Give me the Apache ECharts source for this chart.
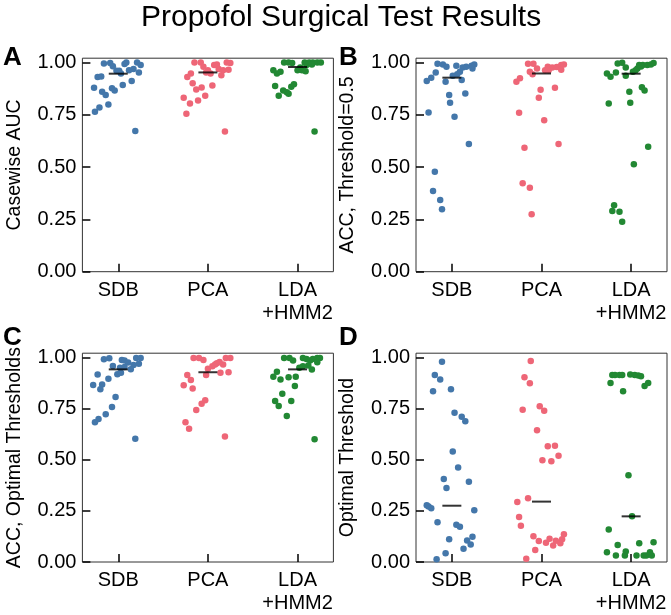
<!DOCTYPE html>
<html>
<head>
<meta charset="utf-8">
<script src="https://cdn.jsdelivr.net/npm/echarts@6.0.0/dist/echarts.min.js"></script>
<style>
    *{margin:0;padding:0;}
    body{background:#fff;overflow:hidden;}
    #chart{width:671px;height:615px;}
</style>
</head>
<body>
<div id="chart"></div>
<script>
// x axis categories and y ticks
let methods = ['SDB', 'PCA', 'LDA\n+HMM2'];
let yTicks = [0, 0.25, 0.5, 0.75, 1];
let panelNames = ['Casewise AUC', 'ACC, Threshold=0.5', 'ACC, Optimal Thresholds', 'Optimal Threshold'];
let panelLetters = ['A', 'B', 'C', 'D'];

// A: casewise AUC (values, and strip jitter)
let aucSdb = [0.995,0.997,0.981,0.992,1.0,0.960,0.960,0.947,0.963,0.968,1.0,0.987,0.952,0.930,0.932,0.879,0.860,0.844,0.876,0.866,0.892,0.911,0.799,0.785,0.764,0.672];
let aucSdbJit = [-0.16,-0.09,-0.06,0.07,0.09,-0.02,0.01,0.03,0.12,0.17,0.21,0.25,0.23,-0.23,-0.19,-0.27,-0.18,-0.14,-0.07,-0.04,0.05,0.15,-0.11,-0.21,-0.26,0.19];
let aucPca = [1.0,1.0,0.979,0.963,0.952,0.987,0.990,1.0,0.997,0.968,0.963,0.965,0.947,0.947,0.930,0.939,0.900,0.880,0.871,0.889,0.841,0.831,0.818,0.803,0.755,0.670];
let aucPcaJit = [-0.15,-0.08,-0.05,0.0,-0.02,0.07,0.10,0.21,0.25,0.12,0.17,0.23,0.03,-0.19,-0.23,0.15,-0.17,-0.07,-0.13,0.05,-0.03,-0.27,-0.11,-0.20,-0.24,0.19];
let aucLda = [1.0,1.0,0.997,0.975,0.963,1.0,1.0,1.0,1.0,1.0,0.987,0.990,0.963,0.958,0.962,0.947,0.955,0.887,0.866,0.857,0.850,0.841,0.884,0.895,0.670];
let aucLdaJit = [-0.15,-0.10,-0.06,0.03,0.05,0.08,0.13,0.17,0.22,0.26,0.10,0.16,0.0,0.09,-0.27,-0.23,-0.19,-0.25,-0.16,-0.12,-0.10,-0.21,-0.07,-0.04,0.19];

// B: accuracy at threshold 0.5
let accSdb = [0.994,0.990,0.979,0.984,0.976,0.979,0.984,0.990,0.971,0.955,0.943,0.936,0.952,0.927,0.911,0.908,0.916,0.844,0.851,0.807,0.761,0.740,0.610,0.478,0.385,0.342,0.298];
let accSdbJit = [-0.16,-0.10,-0.06,0.05,0.12,0.16,0.22,0.25,0.23,0.09,0.06,0.01,-0.18,-0.23,-0.28,-0.07,0.11,-0.03,0.15,-0.02,-0.26,0.03,0.19,-0.19,-0.21,-0.13,-0.11];
let accPca = [0.994,0.994,0.971,0.979,0.975,0.978,0.987,0.990,0.965,0.963,0.963,0.955,0.943,0.924,0.908,0.869,0.831,0.879,0.759,0.723,0.610,0.592,0.422,0.401,0.275];
let accPcaJit = [-0.15,-0.09,-0.05,0.07,0.12,0.17,0.22,0.25,0.22,0.04,0.08,-0.13,-0.10,-0.24,-0.28,-0.01,-0.03,0.15,-0.25,0.03,0.19,-0.19,-0.21,-0.13,-0.11];
let accLda = [0.995,0.998,0.975,0.952,0.947,0.931,0.936,0.955,0.963,0.971,0.987,0.987,0.987,0.990,0.997,0.980,0.860,0.881,0.866,0.803,0.807,0.597,0.513,0.318,0.290,0.287,0.239];
let accLdaJit = [-0.15,-0.10,-0.06,-0.17,-0.27,-0.23,-0.06,0.02,0.05,0.07,0.09,0.13,0.18,0.22,0.25,0.11,-0.02,0.12,0.15,-0.25,-0.01,0.19,0.03,-0.19,-0.21,-0.13,-0.10];

// C: accuracy at optimal thresholds
let optSdb = [0.990,0.995,0.987,0.984,0.975,0.997,0.997,0.957,0.949,0.952,0.962,0.968,0.917,0.924,0.941,0.916,0.895,0.865,0.867,0.844,0.806,0.757,0.722,0.698,0.683,0.602];
let optSdbJit = [-0.16,-0.10,0.04,0.07,0.11,0.20,0.25,-0.06,0.02,0.07,0.17,0.23,-0.01,0.03,0.14,-0.23,-0.11,-0.28,-0.18,-0.20,-0.03,-0.07,-0.14,-0.22,-0.26,0.19];
let optPca = [0.997,0.997,0.987,0.997,0.997,0.944,0.956,0.965,0.971,0.965,0.977,0.913,0.924,0.927,0.913,0.889,0.863,0.848,0.773,0.790,0.743,0.683,0.651,0.613];
let optPcaJit = [-0.16,-0.10,-0.05,0.20,0.25,0.0,0.05,0.08,0.10,0.17,0.13,-0.02,0.14,0.23,-0.23,-0.19,-0.27,-0.17,-0.07,-0.03,-0.13,-0.25,-0.21,0.19];
let optLda = [0.997,0.997,0.984,0.997,0.992,0.984,0.992,0.997,0.997,0.949,0.956,0.960,0.940,0.976,0.929,0.905,0.892,0.902,0.905,0.860,0.822,0.786,0.762,0.786,0.713,0.600];
let optLdaJit = [-0.15,-0.09,-0.05,0.06,0.10,0.14,0.17,0.22,0.25,0.02,0.06,0.12,0.16,0.22,-0.23,-0.27,-0.19,-0.10,-0.02,-0.03,-0.17,-0.25,-0.21,-0.07,-0.12,0.19];

// D: optimal threshold
let thrSdb = [0.978,0.914,0.892,0.834,0.844,0.729,0.710,0.688,0.540,0.462,0.406,0.392,0.361,0.277,0.271,0.263,0.253,0.194,0.182,0.172,0.111,0.105,0.123,0.086,0.065,0.043,0.013];
let thrSdbJit = [-0.11,-0.19,-0.13,-0.21,-0.01,0.03,0.11,0.15,0.01,0.07,-0.09,0.19,-0.06,-0.28,-0.26,-0.23,0.25,-0.16,0.05,0.09,-0.03,0.17,0.23,0.21,0.13,-0.07,-0.17];
let thrPca = [0.982,0.903,0.873,0.744,0.761,0.739,0.643,0.565,0.568,0.519,0.497,0.492,0.293,0.311,0.220,0.177,0.126,0.102,0.094,0.113,0.080,0.104,0.091,0.111,0.135,0.059,0.016];
let thrPcaJit = [-0.12,-0.19,-0.13,-0.21,-0.02,0.03,-0.05,0.07,0.15,0.19,0.01,0.11,-0.27,-0.15,-0.25,-0.23,-0.09,-0.03,0.05,0.09,0.13,0.16,0.21,0.23,0.25,-0.07,-0.17];
let thrLda = [0.914,0.914,0.914,0.914,0.916,0.914,0.911,0.908,0.874,0.834,0.860,0.874,0.424,0.223,0.159,0.048,0.083,0.032,0.051,0.032,0.092,0.032,0.032,0.032,0.048,0.032,0.097];
let thrLdaJit = [-0.21,-0.18,-0.13,-0.10,-0.01,0.04,0.08,0.11,-0.23,-0.09,0.15,0.19,-0.03,0.01,-0.25,-0.27,-0.15,-0.17,-0.06,-0.07,0.09,0.06,0.14,0.17,0.21,0.23,0.25];

// medians (black bars)
let medAuc = [0.946, 0.952, 0.978];
let medAcc = [0.927, 0.947, 0.946];
let medOpt = [0.941, 0.927, 0.941];
let medThr = [0.275, 0.295, 0.223];

let panels = [
    {vals: [aucSdb, aucPca, aucLda], jit: [aucSdbJit, aucPcaJit, aucLdaJit], med: medAuc},
    {vals: [accSdb, accPca, accLda], jit: [accSdbJit, accPcaJit, accLdaJit], med: medAcc},
    {vals: [optSdb, optPca, optLda], jit: [optSdbJit, optPcaJit, optLdaJit], med: medOpt},
    {vals: [thrSdb, thrPca, thrLda], jit: [thrSdbJit, thrPcaJit, thrLdaJit], med: medThr}
];

let colors = ['#4477AA', '#EE6677', '#228833'];
let font = 'Liberation Sans, Arial, sans-serif';
let gridPos = [
    {left: 82.4, top: 58.2, lx: 3, ly: 45},
    {left: 416, top: 58.2, lx: 339, ly: 45},
    {left: 82.4, top: 353.2, lx: 3, ly: 325},
    {left: 416, top: 353.2, lx: 339, ly: 325}
];

let grids = [], xAxes = [], yAxes = [], series = [], graphics = [];
gridPos.forEach(function (p, i) {
    grids.push({left: p.left, top: p.top, width: 251, height: 213.5, show: true,
        borderColor: '#333', borderWidth: 1, backgroundColor: 'transparent'});
    xAxes.push({
        type: 'value', gridIndex: i, min: -0.4, max: 2.4,
        splitLine: {show: false}, axisLine: {show: false, onZero: false},
        axisTick: {show: true, inside: true, length: 8, customValues: [0, 1, 2],
            lineStyle: {color: '#000', width: 1.5}},
        axisLabel: {customValues: [0, 1, 2], formatter: function (v) { return methods[Math.round(v)]; },
            margin: 7, fontSize: 20, lineHeight: 23, color: '#000', fontFamily: font}
    });
    yAxes.push({
        type: 'value', gridIndex: i, min: 0, max: 1.02,
        name: panelNames[i], nameLocation: 'middle', nameGap: 58,
        nameTextStyle: {fontSize: 19.5, color: '#000', fontFamily: font},
        splitLine: {show: false}, axisLine: {show: false, onZero: false},
        axisTick: {show: true, inside: true, length: 8, customValues: yTicks,
            lineStyle: {color: '#000', width: 1.5}},
        axisLabel: {customValues: yTicks, formatter: function (v) { return v.toFixed(2); },
            margin: 6, fontSize: 20, color: '#000', fontFamily: font}
    });
    let pn = panels[i];
    for (let c = 0; c < 3; c++) {
        series.push({
            type: 'scatter', xAxisIndex: i, yAxisIndex: i, symbolSize: 6.5,
            itemStyle: {color: colors[c], opacity: 1},
            data: pn.vals[c].map(function (v, k) { return [c + pn.jit[c][k], v]; }),
            z: 2
        });
    }
    series.push({
        type: 'scatter', xAxisIndex: i, yAxisIndex: i, symbol: 'rect', symbolSize: [19, 2],
        itemStyle: {color: '#000'},
        data: pn.med.map(function (m, c) { return [c, m]; }),
        z: 3
    });
    graphics.push({
        type: 'text', left: p.lx, top: p.ly,
        style: {text: panelLetters[i], font: 'bold 26px ' + font, fill: '#000'}
    });
});

graphics.push({
    type: 'text', left: 141, top: 3,
    style: {text: 'Propofol Surgical Test Results', font: '30px ' + font, fill: '#000'}
});

let myChart = echarts.init(document.getElementById('chart'));
myChart.setOption({
    animation: false,
    grid: grids,
    xAxis: xAxes,
    yAxis: yAxes,
    series: series,
    graphic: graphics
});
</script>
</body>
</html>
